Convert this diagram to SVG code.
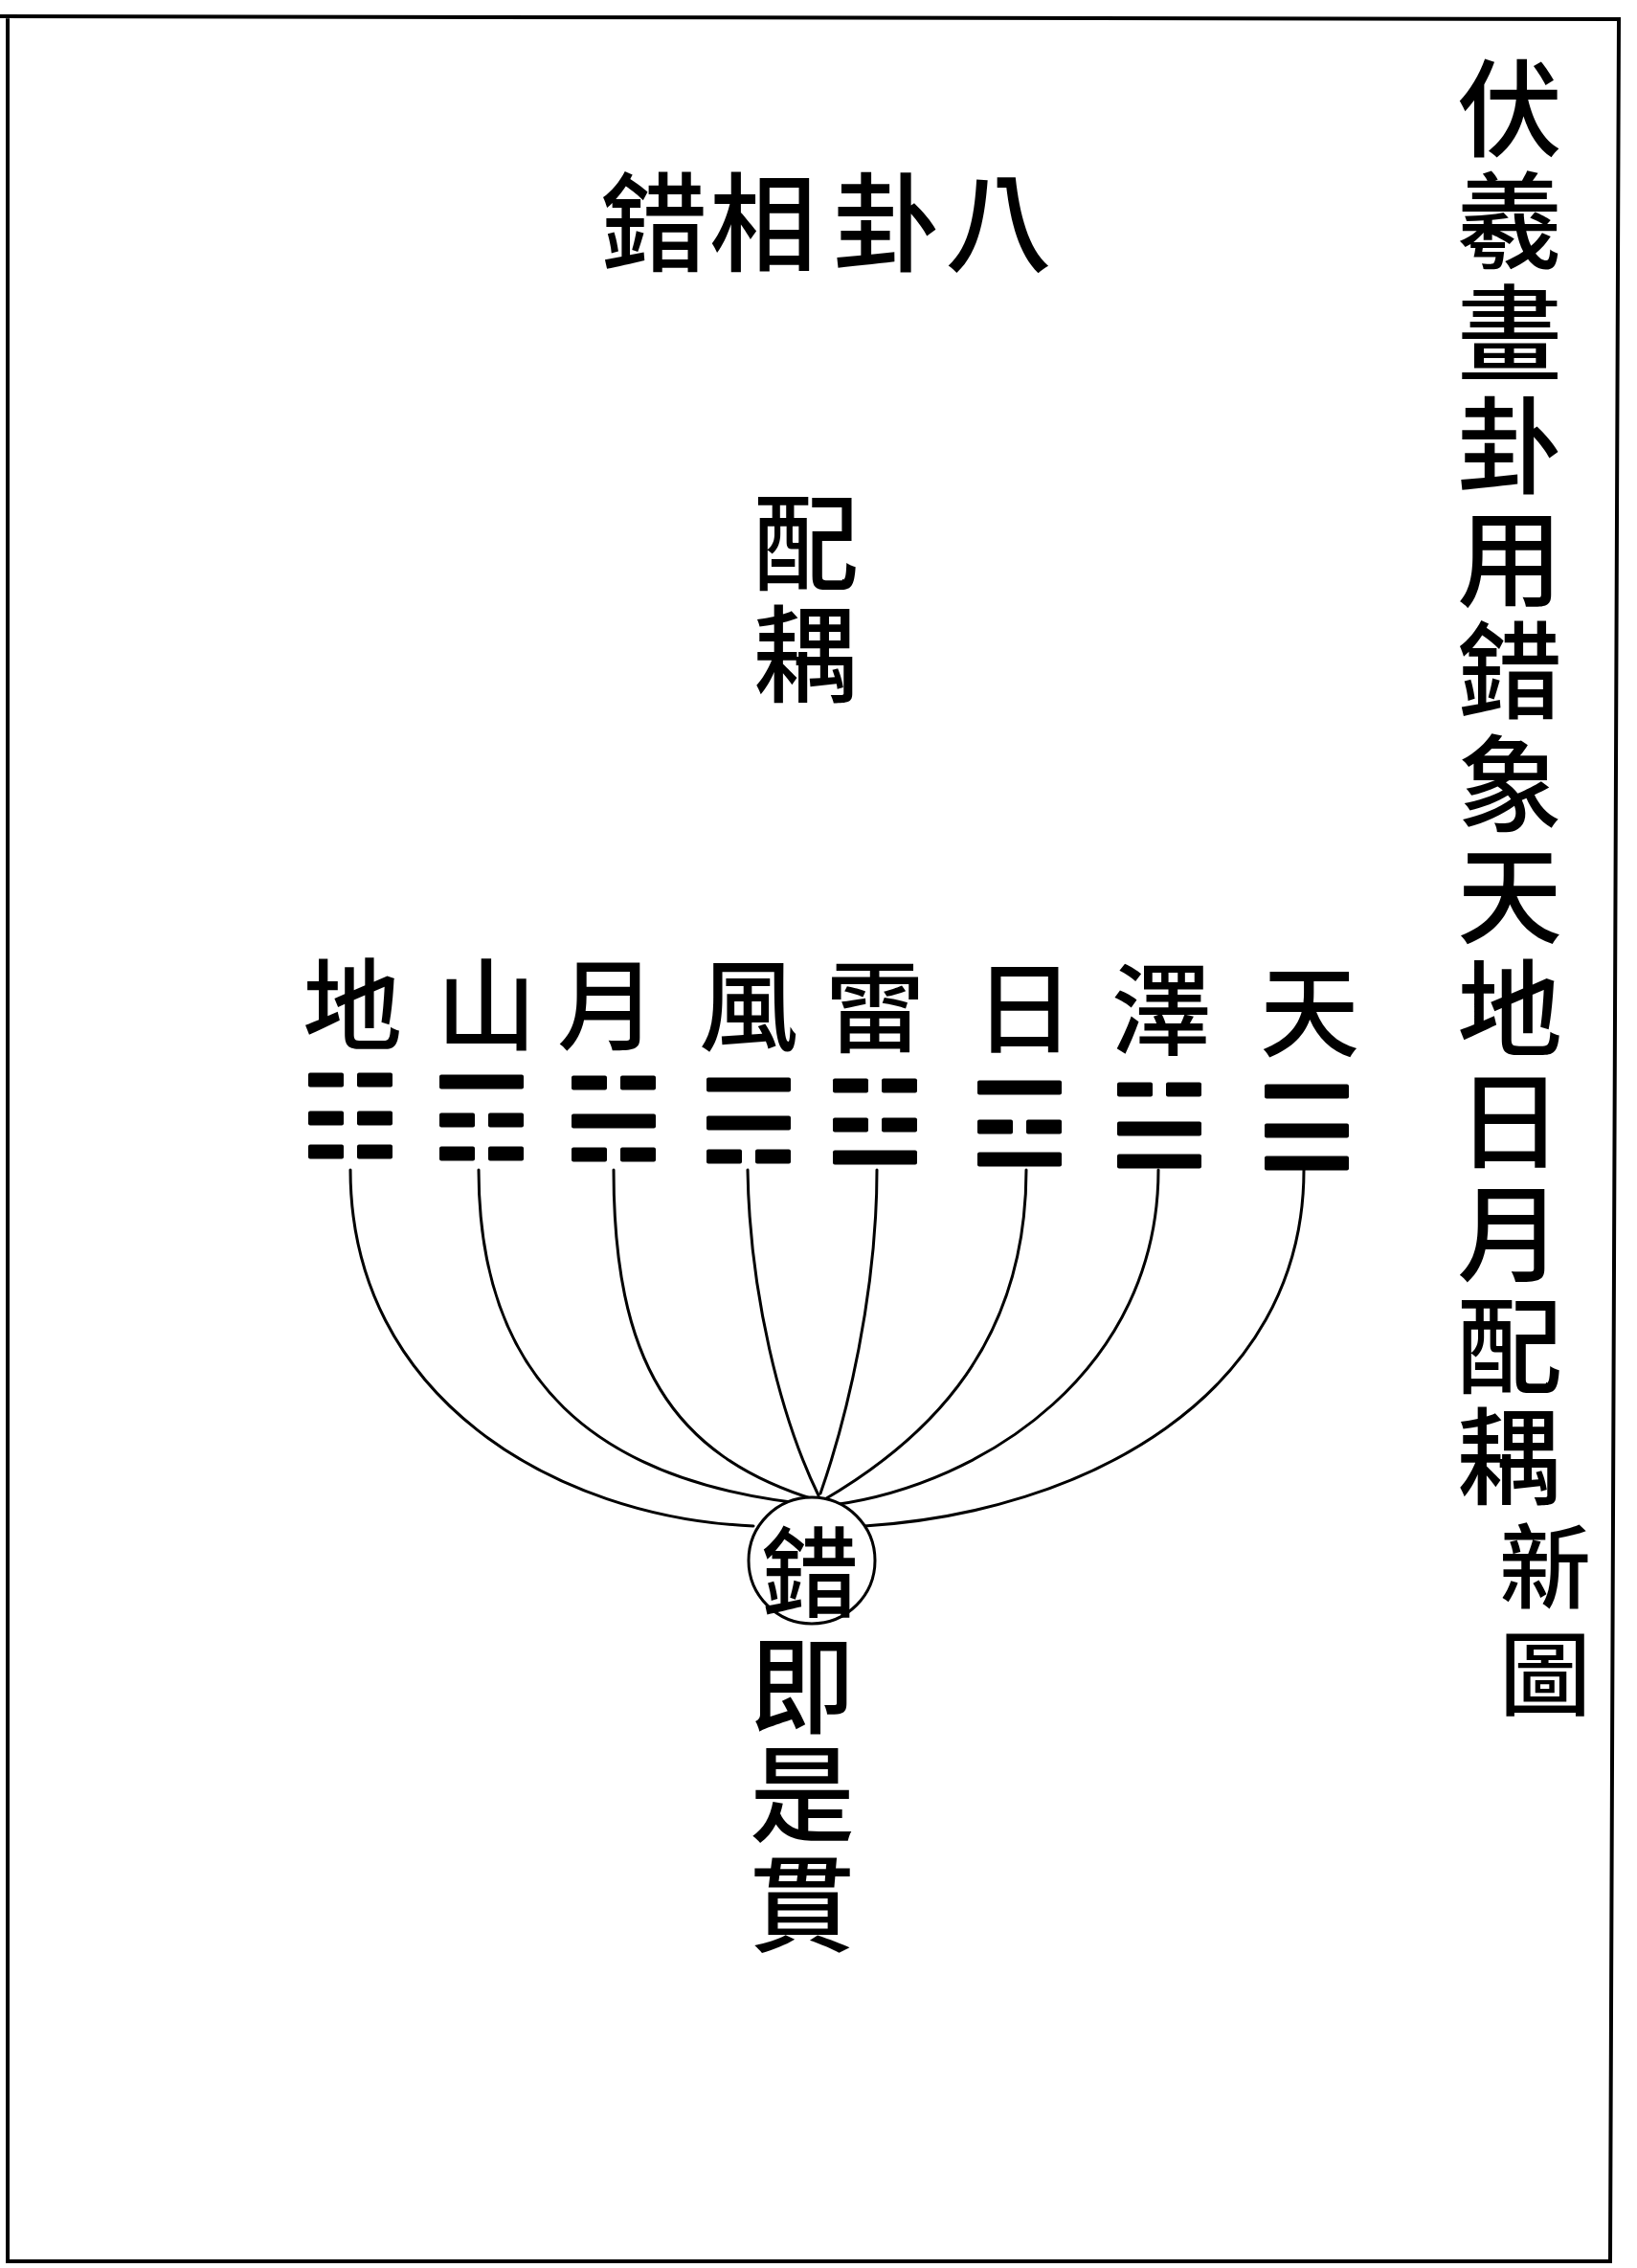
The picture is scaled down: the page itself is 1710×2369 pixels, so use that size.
<svg xmlns="http://www.w3.org/2000/svg" xmlns:xlink="http://www.w3.org/1999/xlink" width="1710" height="2369" viewBox="0 0 1710 2369">
<style>
  .t { font-family: "Noto Sans CJK TC", "Noto Sans CJK SC", sans-serif; font-weight: 500; fill: #000; text-anchor: middle; dominant-baseline: central; }
  .v { font-family: "Noto Sans CJK TC", "Noto Sans CJK SC", sans-serif; font-weight: 500; fill: #000; writing-mode: vertical-rl; text-anchor: middle; }
  .frame { fill: none; stroke: #000; stroke-width: 4; }
  .conn { fill: none; stroke: #000; stroke-width: 3; stroke-linecap: round; }
  .ring { fill: #fff; stroke: #000; stroke-width: 3; }
  .bar { fill: #000; }
</style>
<defs>
  <rect id="yang" class="bar" x="-44" y="-7.5" width="88" height="15" rx="2"/>
  <g id="yin" class="bar">
    <rect x="-44" y="-7.5" width="37" height="15" rx="2"/>
    <rect x="7" y="-7.5" width="37" height="15" rx="2"/>
  </g>
</defs>
<rect x="0" y="0" width="1710" height="2369" fill="#fff"/>
<path class="frame" d="M 0 17 L 1691 20 L 1682 2362 L 8 2362 L 8 17"/>

<g id="side-title">
  <text class="v" font-size="110" x="1577" y="113 230.5 348 465.5 583 700.5 818 935.5 1053 1170.5 1288 1405.5 1521">伏羲畫卦用錯象天地日月配耦</text>
  <text class="v" font-size="96" x="1614" y="1636 1748">新圖</text>
</g>

<g id="title">
  <text class="t" font-size="112" x="683" y="226">錯</text>
  <text class="t" font-size="112" x="797" y="226">相</text>
  <text class="t" font-size="112" x="926" y="226">卦</text>
  <text class="t" font-size="112" x="1043" y="226">八</text>
</g>

<g id="peiou">
  <text class="v" font-size="110" x="842" y="566 683">配耦</text>
</g>

<g id="connectors">
  <path class="conn" d="M 366 1222 C 366 1460 580 1585 787 1594"/>
  <path class="conn" d="M 500 1222 C 500 1440 620 1550 853 1572"/>
  <path class="conn" d="M 641 1222 C 641 1420 700 1520 853 1567"/>
  <path class="conn" d="M 781 1222 C 783 1350 815 1480 855 1562"/>
  <path class="conn" d="M 916 1222 C 916 1350 885 1480 857 1560"/>
  <path class="conn" d="M 1072 1222 C 1072 1400 975 1500 860 1567"/>
  <path class="conn" d="M 1210 1222 C 1210 1430 1030 1550 870 1572"/>
  <path class="conn" d="M 1362 1222 C 1362 1460 1130 1580 903 1594"/>
</g>

<g id="kun-di">
  <text class="t" font-size="104" x="368" y="1043">地</text>
  <use xlink:href="#yin" x="366" y="1128"/>
  <use xlink:href="#yin" x="366" y="1168"/>
  <use xlink:href="#yin" x="366" y="1203"/>
</g>
<g id="gen-shan">
  <text class="t" font-size="104" x="508" y="1043">山</text>
  <use xlink:href="#yang" x="503" y="1130"/>
  <use xlink:href="#yin" x="503" y="1170"/>
  <use xlink:href="#yin" x="503" y="1205"/>
</g>
<g id="kan-yue">
  <text class="t" font-size="104" x="634" y="1043">月</text>
  <use xlink:href="#yin" x="641" y="1131"/>
  <use xlink:href="#yang" x="641" y="1171"/>
  <use xlink:href="#yin" x="641" y="1206"/>
</g>
<g id="xun-feng">
  <text class="t" font-size="104" x="782" y="1044">風</text>
  <use xlink:href="#yang" x="782" y="1133"/>
  <use xlink:href="#yang" x="782" y="1173"/>
  <use xlink:href="#yin" x="782" y="1208"/>
</g>
<g id="zhen-lei">
  <text class="t" font-size="104" x="914" y="1045">雷</text>
  <use xlink:href="#yin" x="914" y="1134"/>
  <use xlink:href="#yin" x="914" y="1175"/>
  <use xlink:href="#yang" x="914" y="1209"/>
</g>
<g id="li-ri">
  <text class="t" font-size="104" x="1070" y="1046">日</text>
  <use xlink:href="#yang" x="1065" y="1136"/>
  <use xlink:href="#yin" x="1065" y="1177"/>
  <use xlink:href="#yang" x="1065" y="1211"/>
</g>
<g id="dui-ze">
  <text class="t" font-size="104" x="1213" y="1048">澤</text>
  <use xlink:href="#yin" x="1211" y="1138"/>
  <use xlink:href="#yang" x="1211" y="1179"/>
  <use xlink:href="#yang" x="1211" y="1213"/>
</g>
<g id="qian-tian">
  <text class="t" font-size="104" x="1368" y="1050">天</text>
  <use xlink:href="#yang" x="1365" y="1140"/>
  <use xlink:href="#yang" x="1365" y="1181"/>
  <use xlink:href="#yang" x="1365" y="1215"/>
</g>

<g id="cuo-hub">
  <circle class="ring" cx="848" cy="1630" r="66"/>
  <text class="t" font-size="102" x="846" y="1636">錯</text>
</g>

<g id="jishiguan">
  <text class="v" font-size="110" x="838" y="1760 1873 1988">即是貫</text>
</g>
</svg>
